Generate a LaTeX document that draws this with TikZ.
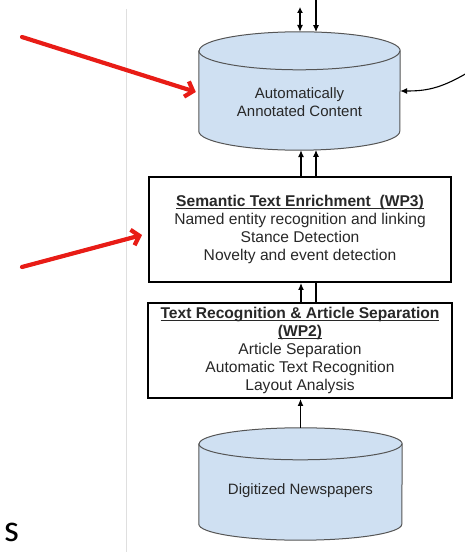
\documentclass[tikz,border=0pt]{standalone}
\usepackage{fontspec}
\setmainfont{Liberation Sans}
\newfontfamily\slidefont{Carlito}
\usetikzlibrary{arrows.meta,calc}
\definecolor{cylfill}{RGB}{207,224,242}
\definecolor{cyledge}{RGB}{85,85,85}
\definecolor{inktext}{RGB}{40,40,40}
\definecolor{callred}{RGB}{232,28,22}

% cylinder outline drawn around a named (invisible) node: #1 node, #2 x radius, #3 y radius
\newcommand\cylbody[3]{%
  \draw[cyledge, fill=cylfill, line width=1pt]
    ($(#1.north west)+(0,-#3)$) -- ($(#1.south west)+(0,#3)$)
    arc[start angle=180, end angle=360, x radius=#2, y radius=#3]
    -- ($(#1.north east)+(0,-#3)$)
    arc[start angle=0, end angle=180, x radius=#2, y radius=#3] -- cycle;
  \draw[cyledge, line width=1pt]
    ($(#1.north west)+(0,-#3)$)
    arc[start angle=180, end angle=360, x radius=#2, y radius=#3];
}

% underline that sits just below the baseline
\newcommand\ulbase[1]{\setbox0\hbox{#1}\rlap{\rule[-2pt]{\wd0}{0.9pt}}\box0}

\begin{document}
\begin{tikzpicture}[x=1pt,y=1pt,
  lbl/.style={font=\fontsize{15}{18}\selectfont, text=inktext, align=center, inner sep=0},
  wpbox/.style={draw=black, line width=2pt, fill=white, inner sep=0,
                font=\fontsize{15.6}{18}\selectfont, text=inktext, align=center},
  cylarea/.style={inner sep=0, draw=none},
  flow/.style={line width=1.1pt, -{Latex[length=7pt,width=6pt]}},
  callout/.style={draw=callred, line width=4.2pt, line cap=round,
                  -{Straight Barb[length=7pt,width=16pt]}},
  ]
\useasboundingbox (0,0) rectangle (465,552);

% page margin rule
\draw[gray!25, line width=1pt] (126,543) -- (126,0);

% annotated content store
\node[cylarea, minimum width=201pt, minimum height=118pt] (ac) at (299.5,461) {};
\cylbody{ac}{100.5pt}{19pt}
\node[lbl] (actext) at (299.5,450) {Automatically\\Annotated Content};

% work package boxes
\node[wpbox, minimum width=302pt, minimum height=105pt] (wp3) at (300,322.5)
  {\textbf{\ulbase{Semantic Text Enrichment\ \ (WP3)}}\\
   Named entity recognition and linking\\
   Stance Detection\\
   Novelty and event detection};

\node[wpbox, minimum width=304pt, minimum height=95pt] (wp2) at (300,201.5)
  {\textbf{\ulbase{Text Recognition \& Article Separation}}\\
   \textbf{\ulbase{(WP2)}}\\
   Article Separation\\
   Automatic Text Recognition\\
   Layout Analysis};

% source store
\node[cylarea, minimum width=203pt, minimum height=112pt] (dn) at (300.5,68) {};
\cylbody{dn}{101.5pt}{16pt}
\node[lbl] (dntext) at (300.5,61) {Digitized Newspapers};

% incoming connectors at the top
\coordinate (inA) at (300,545);
\coordinate (inB) at (316,552);
\draw[line width=1.1pt, {Latex[length=6pt,width=6pt]}-{Latex[length=7pt,width=6pt]}] (inA) -- (inA |- ac.north);
\draw[flow] (inB) -- ($(inB |- ac.north)+(0,-0.3)$);

% feedback connector from the right
\coordinate (fb) at (467,479);
\draw[flow] (fb) .. controls (440,463) and (425,461) .. (ac.east);

% flow between the stages
\draw[flow] ($(wp3.north)+(1,0)$) -- ($(ac.south)+(1.5,0)$);
\draw[flow] ($(wp3.north)+(16,0)$) -- ($(ac.south)+(16.5,0.3)$);
\draw[flow] ($(wp2.north)+(1,0)$) -- ($(wp3.south)+(1,0)$);
\draw[line width=1.1pt] ($(wp2.north)+(16,0)$) -- ($(wp3.south)+(16,0)$);
\draw[flow] (dn.north) -- ($(wp2.south)+(0.5,0)$);

% red call-out arrows
\coordinate (r1) at (22,515);
\coordinate (r2) at (22,285);
\draw[callout] (r1) -- ($(ac.west)+(-3,-1)$);
\draw[callout] (r2) -- ($(wp3.west)+(-6,-5.5)$);

% fragment of slide text
\node[anchor=base west, inner sep=0, font=\slidefont\fontsize{38}{44}\selectfont] (slideS) at (4,10) {s};
\end{tikzpicture}
\end{document}
